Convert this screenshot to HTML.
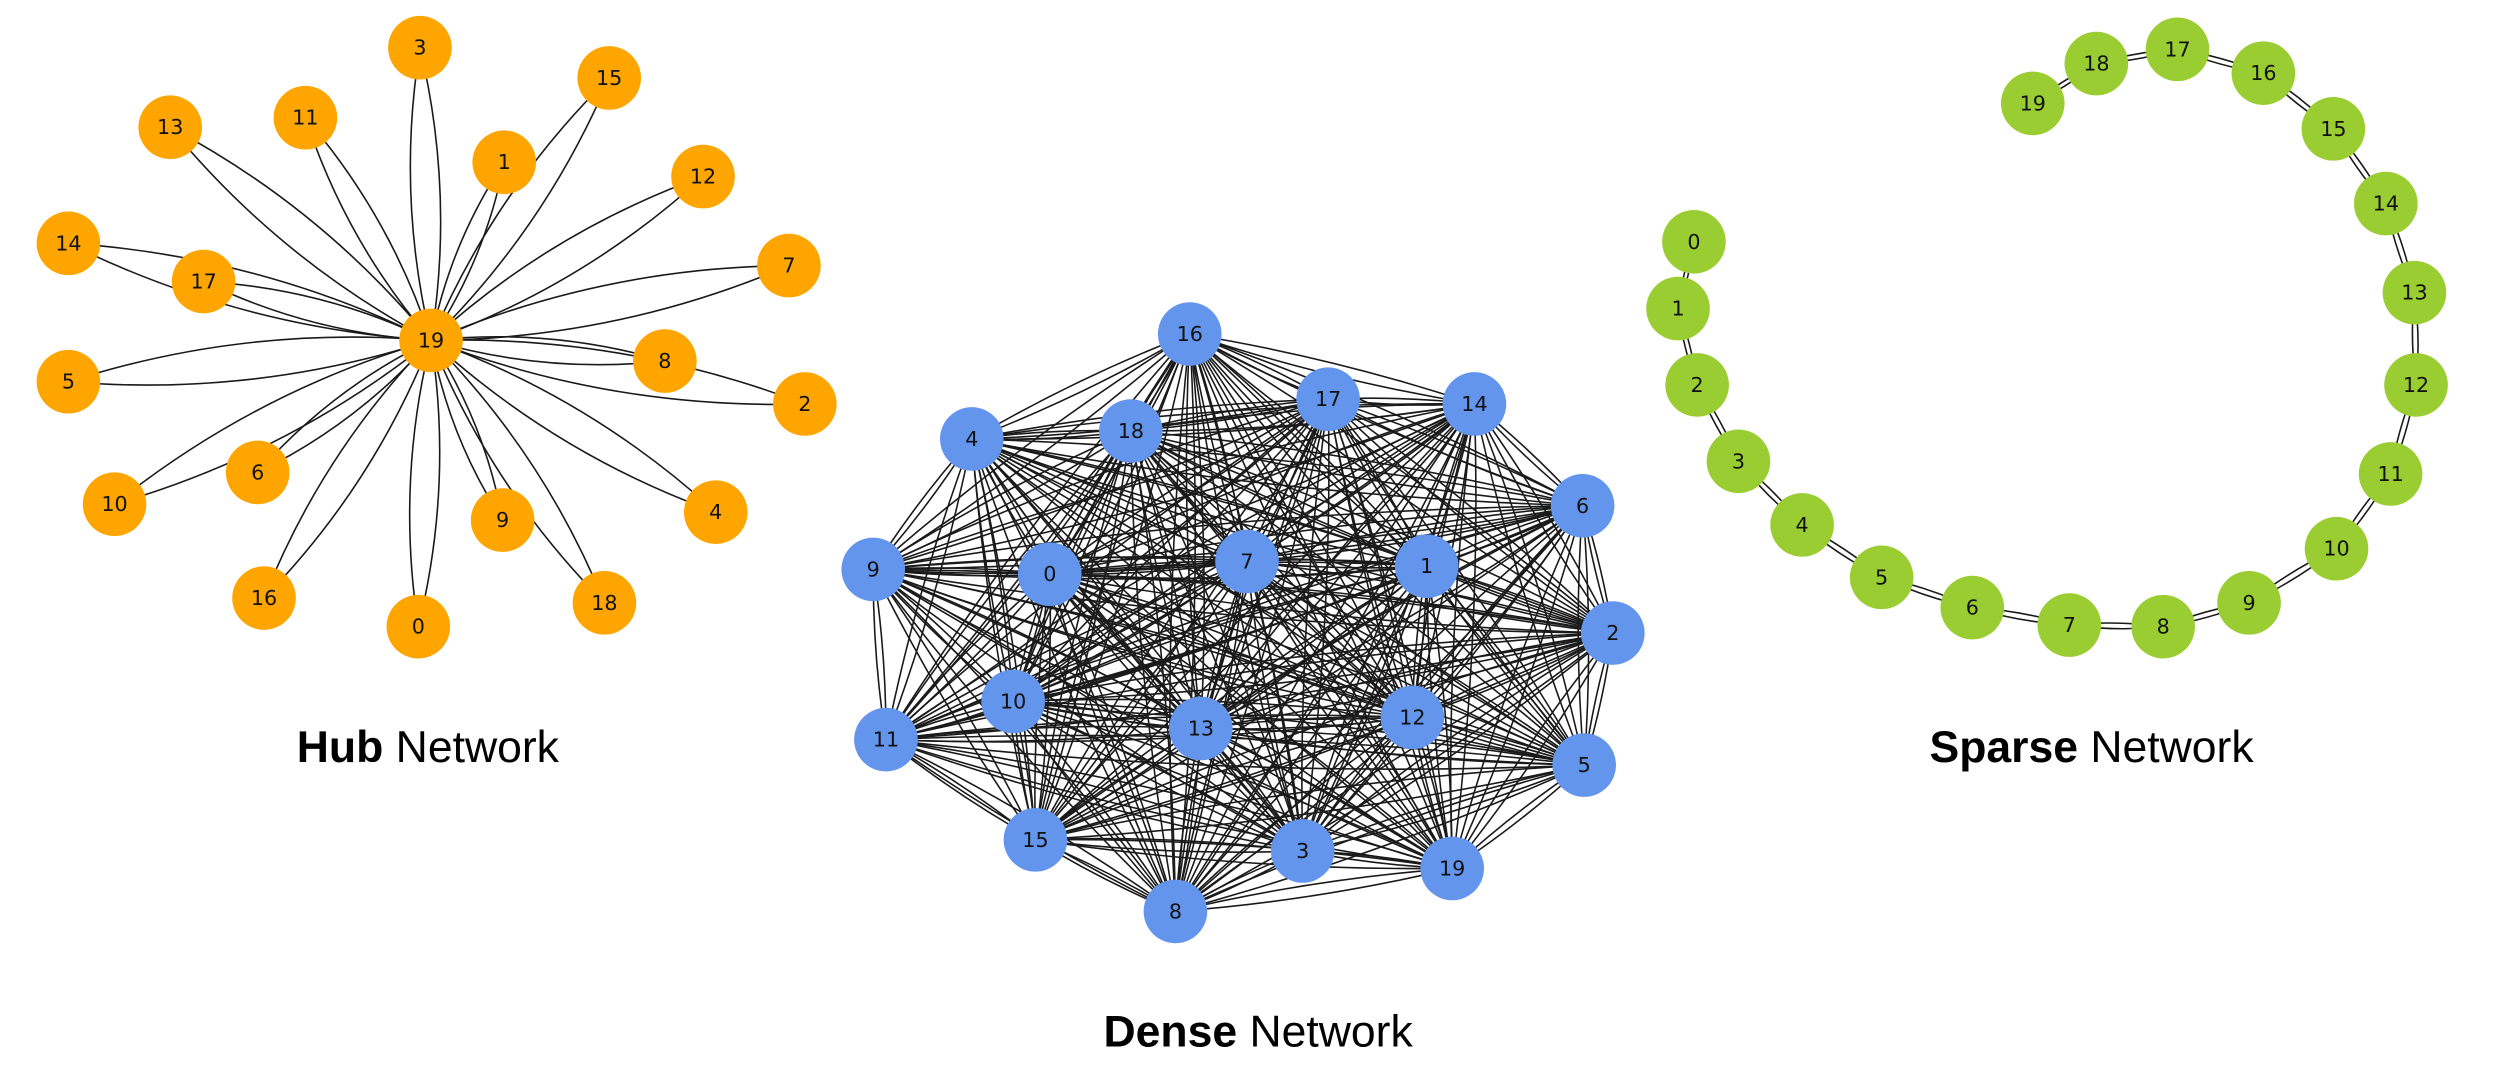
<!DOCTYPE html>
<html><head><meta charset="utf-8"><style>
html,body{margin:0;padding:0;background:#fff;}
svg{display:block;}
.t{font-family:"DejaVu Sans","Liberation Sans",sans-serif;font-size:13px;fill:#111;text-anchor:middle;dominant-baseline:central;}
.h{font-family:"Liberation Sans",sans-serif;font-size:28px;fill:#000;text-anchor:middle;}
</style></head><body>
<svg id="s" width="2494" height="1076" viewBox="0 0 1568 676.5" xmlns="http://www.w3.org/2000/svg">
<g id="edges" fill="none" stroke="#1a1a1a" stroke-width="1"></g>
<g id="nodes"></g>
<g id="labels">
<text class="h" x="269" y="479"><tspan font-weight="bold">Hub</tspan> Network</text>
<text class="h" x="791" y="658"><tspan font-weight="bold">Dense</tspan> Network</text>
<text class="h" x="1315" y="479"><tspan font-weight="bold">Sparse</tspan> Network</text>
<text class="t" x="271" y="214">19</text><text class="t" x="264" y="30">3</text><text class="t" x="383" y="49">15</text><text class="t" x="107" y="80">13</text><text class="t" x="192" y="74">11</text><text class="t" x="317" y="102">1</text><text class="t" x="442" y="111">12</text><text class="t" x="43" y="153">14</text><text class="t" x="128" y="177">17</text><text class="t" x="496" y="167">7</text><text class="t" x="418" y="227">8</text><text class="t" x="506" y="254">2</text><text class="t" x="43" y="240">5</text><text class="t" x="72" y="317">10</text><text class="t" x="162" y="297">6</text><text class="t" x="316" y="327">9</text><text class="t" x="450" y="322">4</text><text class="t" x="166" y="376">16</text><text class="t" x="263" y="394">0</text><text class="t" x="380" y="379">18</text>
<text class="t" x="748" y="210">16</text><text class="t" x="835" y="251">17</text><text class="t" x="927" y="254">14</text><text class="t" x="611" y="276">4</text><text class="t" x="711" y="271">18</text><text class="t" x="995" y="318">6</text><text class="t" x="549" y="358">9</text><text class="t" x="660" y="361">0</text><text class="t" x="784" y="353">7</text><text class="t" x="897" y="356">1</text><text class="t" x="1014" y="398">2</text><text class="t" x="637" y="441">10</text><text class="t" x="755" y="458">13</text><text class="t" x="888" y="451">12</text><text class="t" x="557" y="465">11</text><text class="t" x="996" y="481">5</text><text class="t" x="651" y="528">15</text><text class="t" x="819" y="535">3</text><text class="t" x="913" y="546">19</text><text class="t" x="739" y="573">8</text>
<text class="t" x="1065" y="152">0</text><text class="t" x="1055" y="194">1</text><text class="t" x="1067" y="242">2</text><text class="t" x="1093" y="290">3</text><text class="t" x="1133" y="330">4</text><text class="t" x="1183" y="363">5</text><text class="t" x="1240" y="382">6</text><text class="t" x="1301" y="393">7</text><text class="t" x="1360" y="394">8</text><text class="t" x="1414" y="379">9</text><text class="t" x="1469" y="345">10</text><text class="t" x="1503" y="298">11</text><text class="t" x="1519" y="242">12</text><text class="t" x="1518" y="184">13</text><text class="t" x="1500" y="128">14</text><text class="t" x="1467" y="81">15</text><text class="t" x="1423" y="46">16</text><text class="t" x="1369" y="31">17</text><text class="t" x="1318" y="40">18</text><text class="t" x="1278" y="65">19</text>
</g>
</svg>
<script>
var NS="http://www.w3.org/2000/svg";
var hub=[[264,30],[383,49],[107,80],[192,74],[317,102],[442,111],[43,153],[128,177],[496,167],[418,227],[506,254],[43,240],[72,317],[162,297],[316,327],[450,322],[166,376],[263,394],[380,379]];
var hc=[271,214];
var dense=[[748,210],[835,251],[927,254],[611,276],[711,271],[995,318],[549,358],[660,361],[784,353],[897,356],[1014,398],[637,441],[755,458],[888,451],[557,465],[996,481],[651,528],[819,535],[913,546],[739,573]];
var sparse=[[1065,152],[1055,194],[1067,242],[1093,290],[1133,330],[1183,363],[1240,382],[1301,393],[1360,394],[1414,379],[1469,345],[1503,298],[1519,242],[1518,184],[1500,128],[1467,81],[1423,46],[1369,31],[1318,40],[1278,65]];
var E=document.getElementById("edges"),N=document.getElementById("nodes");
function curve(a,b,r){var mx=(a[0]+b[0])/2,my=(a[1]+b[1])/2,dx=b[0]-a[0],dy=b[1]-a[1];
var cx=mx-dy*r,cy=my+dx*r;var p=document.createElementNS(NS,"path");
p.setAttribute("d","M"+a[0]+" "+a[1]+" Q"+cx+" "+cy+" "+b[0]+" "+b[1]);E.appendChild(p);}
hub.forEach(function(n){curve(hc,n,0.1);curve(hc,n,-0.1);});
for(var i=0;i<dense.length;i++)for(var j=i+1;j<dense.length;j++){curve(dense[i],dense[j],0.04);curve(dense[i],dense[j],-0.04);}
for(var i=0;i<sparse.length-1;i++){curve(sparse[i],sparse[i+1],0.06);curve(sparse[i],sparse[i+1],-0.06);}
function nodes(arr,col){arr.forEach(function(n){var c=document.createElementNS(NS,"circle");c.setAttribute("cx",n[0]);c.setAttribute("cy",n[1]);c.setAttribute("r",20);c.setAttribute("fill",col);N.appendChild(c);});}
nodes(hub.concat([hc]),"#FFA500");nodes(dense,"#6495ED");nodes(sparse,"#9ACD32");
</script>
</body></html>
